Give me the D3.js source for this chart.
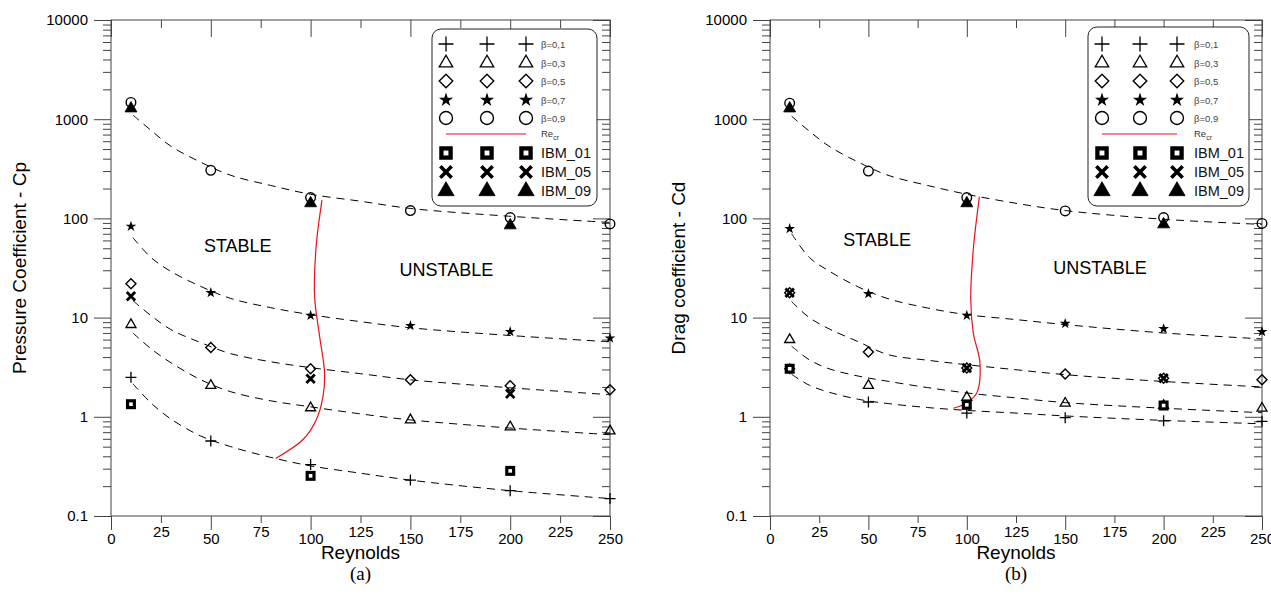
<!DOCTYPE html>
<html>
<head>
<meta charset="utf-8">
<script src="https://cdn.jsdelivr.net/npm/d3@7"></script>
<style>
  body { margin: 0; background: #fff; }
  svg text { font-family: "Liberation Sans", Arial, sans-serif; }
</style>
</head>
<body>
<svg width="1271" height="606"></svg>
<script>
// ---- data ----
const reynolds = [10, 50, 100, 150, 200, 250];
const ibmReynolds = [10, 100, 200];
const fitReynolds = [11, 20, 30, 45, 60, 80, 100, 125, 150, 200, 250];

const xMajorTicks = [0, 50, 100, 150, 200, 250];
const xMinorTicks = [25, 75, 125, 175, 225];
const yMajorTicks = [0.1, 1, 10, 100, 1000, 10000];
const yTickLabels = ['0.1', '1', '10', '100', '1000', '10000'];

// (a) pressure coefficient
const cpBeta01 = [2.5, 0.57, 0.33, 0.23, 0.18, 0.15];
const cpBeta03 = [8.5, 2.07, 1.23, 0.93, 0.79, 0.72];
const cpBeta05 = [21.9, 5.0, 3.05, 2.36, 2.06, 1.87];
const cpBeta07 = [83, 17.8, 10.5, 8.3, 7.2, 6.2];
const cpBeta09 = [1476, 305, 162, 120, 102, 88];
const cpIbm01 = [1.34, 0.254, 0.285];
const cpIbm05 = [16.4, 2.42, 1.71];
const cpIbm09 = [1283, 142, 85];
const cpFit01 = [2.15, 1.38, 0.95, 0.64, 0.50, 0.39, 0.32, 0.27, 0.23, 0.18, 0.15];
const cpFit03 = [7.0, 4.86, 3.51, 2.36, 1.79, 1.45, 1.26, 1.07, 0.93, 0.77, 0.66];
const cpFit05 = [14.8, 10.5, 7.57, 5.59, 4.33, 3.59, 3.13, 2.72, 2.36, 1.96, 1.67];
const cpFit07 = [64, 40.4, 29.2, 20.6, 15.6, 12.6, 10.7, 9.1, 7.9, 6.6, 5.7];
const cpFit09 = [1100, 774, 534, 368, 272, 215, 175, 149, 126, 105, 91];
const cpRecrRe = [82.5, 96.2, 102.8, 106.2, 107, 104.5, 102, 102.8, 105.7];
const cpRecr = [0.38, 0.59, 0.93, 1.60, 2.76, 6.5, 16.4, 52.5, 153];

// (b) drag coefficient
const cdBeta01 = [3.05, 1.41, 1.09, 0.98, 0.91, 0.90];
const cdBeta03 = [6.0, 2.07, 1.57, 1.37, 1.30, 1.22];
const cdBeta05 = [17.8, 4.5, 3.1, 2.70, 2.45, 2.36];
const cdBeta07 = [78.7, 17.4, 10.5, 8.7, 7.7, 7.2];
const cdBeta09 = [1452, 300, 162, 119, 102, 89];
const cdIbm01 = [3.05, 1.32, 1.30];
const cdIbm05 = [17.8, 3.1, 2.45];
const cdIbm09 = [1283, 142, 87];
const cdFit01 = [2.68, 2.08, 1.77, 1.50, 1.36, 1.24, 1.16, 1.09, 1.02, 0.92, 0.85];
const cdFit03 = [5.15, 3.75, 3.05, 2.57, 2.28, 1.97, 1.74, 1.55, 1.39, 1.22, 1.10];
const cdFit05 = [14.5, 10.0, 7.7, 5.7, 4.23, 3.72, 3.35, 2.98, 2.66, 2.27, 2.0];
const cdFit07 = [70, 40.4, 29.5, 20.3, 15.5, 12.5, 10.7, 9.55, 8.5, 7.0, 6.1];
const cdFit09 = [1072, 757, 534, 368, 272, 215, 175, 142, 120, 98, 87];
const cdRecrRe = [93.1, 98.2, 105, 106.7, 103.3, 102, 103.3, 106.4];
const cdRecr = [1.22, 1.32, 1.73, 3.48, 7.0, 15.2, 48.6, 166];

const legendItems = [
  ['plus', 'β=0,1'], ['triangle', 'β=0,3'], ['diamond', 'β=0,5'],
  ['star', 'β=0,7'], ['circle', 'β=0,9'], ['line', 'Re'],
  ['square', 'IBM_01'], ['cross', 'IBM_05'], ['solidTriangle', 'IBM_09']
];

// ---- layout ----
const svg = d3.select('svg');
const plotTop = 20;
const plotBottom = 516;
const legendRows = [44, 63, 81, 100, 118, 134, 153, 172, 191];

const panels = [
  {
    left: 111, right: 610, title: 'Pressure Coefficient - Cp', titleX: 19, tag: '(a)',
    beta: [cpBeta01, cpBeta03, cpBeta05, cpBeta07, cpBeta09],
    fits: [cpFit01, cpFit03, cpFit05, cpFit07, cpFit09],
    ibm: [cpIbm01, cpIbm05, cpIbm09],
    recrRe: cpRecrRe, recr: cpRecr,
    legend: { left: 432, right: 597, top: 29, bottom: 206, cols: [446, 487, 526], textX: 541 },
    stable: [63.5, 53], unstable: [168, 30.5]
  },
  {
    left: 770, right: 1262, title: 'Drag coefficient - Cd', titleX: 678, tag: '(b)',
    beta: [cdBeta01, cdBeta03, cdBeta05, cdBeta07, cdBeta09],
    fits: [cdFit01, cdFit03, cdFit05, cdFit07, cdFit09],
    ibm: [cdIbm01, cdIbm05, cdIbm09],
    recrRe: cdRecrRe, recr: cdRecr,
    legend: { left: 1088, right: 1249, top: 27, bottom: 206, cols: [1102, 1140, 1177], textX: 1194 },
    stable: [54.4, 60], unstable: [167.7, 31.6]
  }
];

// marker drawing; big = legend size
function marker(g, type, cx, cy, big) {
  const k = big ? 1.35 : 1;
  const m = g.append('g').attr('transform', `translate(${cx},${cy})`);
  if (type === 'plus') {
    const s = (big ? 7.5 : 5.5);
    m.append('path').attr('d', `M${-s},0H${s}M0,${-s}V${s}`)
      .attr('stroke', '#000').attr('stroke-width', 1.3).attr('fill', 'none');
  } else if (type === 'triangle' || type === 'solidTriangle') {
    const w = (type === 'triangle' ? 5 : 6) * k;
    const h = w * 1.73;
    const filled = type === 'solidTriangle';
    m.append('path').attr('d', `M0,${-h * 2 / 3}L${w},${h / 3}L${-w},${h / 3}Z`)
      .attr('stroke', '#000').attr('stroke-width', filled ? 0.8 : 1.3)
      .attr('fill', filled ? '#000' : 'none');
  } else if (type === 'diamond') {
    const s = 5 * k;
    m.append('path').attr('d', `M0,${-s}L${s},0L0,${s}L${-s},0Z`)
      .attr('stroke', '#000').attr('stroke-width', 1.4).attr('fill', 'none');
  } else if (type === 'star') {
    m.append('path').attr('d', d3.symbol(d3.symbolStar, big ? 62 : 36)())
      .attr('fill', '#000');
  } else if (type === 'circle') {
    m.append('circle').attr('r', 4.8 * k)
      .attr('stroke', '#000').attr('stroke-width', 1.4).attr('fill', 'none');
  } else if (type === 'square') {
    const s = 5 * k;
    const i = 1.8 * k;
    m.append('rect').attr('x', -s).attr('y', -s).attr('width', 2 * s).attr('height', 2 * s)
      .attr('fill', '#000');
    m.append('rect').attr('x', -i).attr('y', -i).attr('width', 2 * i).attr('height', 2 * i)
      .attr('fill', '#fff');
  } else if (type === 'cross') {
    const s = 4.2 * k;
    m.append('path').attr('d', `M${-s},${-s}L${s},${s}M${s},${-s}L${-s},${s}`)
      .attr('stroke', '#000').attr('stroke-width', big ? 3.6 : 2.8).attr('fill', 'none');
  }
}

const betaTypes = ['plus', 'triangle', 'diamond', 'star', 'circle'];
const ibmTypes = ['square', 'cross', 'solidTriangle'];

panels.forEach(p => {
  const x = d3.scaleLinear().domain([0, 250]).range([p.left, p.right]);
  const y = d3.scaleLog().domain([0.1, 10000]).range([plotBottom, plotTop]);
  const yMinor = y.ticks().filter(d => Math.abs(Math.log10(d) - Math.round(Math.log10(d))) > 1e-6);

  const g = svg.append('g');
  const axisColor = '#444';

  const styleAxis = sel => {
    sel.select('.domain').remove();
    sel.selectAll('line').attr('stroke', axisColor);
    sel.selectAll('text').attr('fill', '#000');
    sel.attr('font-family', '"Liberation Sans", Arial, sans-serif').attr('font-size', 15);
  };

  // left
  g.append('g').attr('transform', `translate(${p.left},0)`)
    .call(d3.axisLeft(y).tickValues(yMajorTicks).tickSize(17).tickPadding(6)
      .tickFormat((d, i) => yTickLabels[i]))
    .call(styleAxis);
  g.append('g').attr('transform', `translate(${p.left},0)`)
    .call(d3.axisLeft(y).tickValues(yMinor).tickSize(8).tickFormat(''))
    .call(styleAxis);
  // right (inward)
  g.append('g').attr('transform', `translate(${p.right},0)`)
    .call(d3.axisRight(y).tickValues(yMajorTicks).tickSize(-17).tickFormat(''))
    .call(styleAxis);
  g.append('g').attr('transform', `translate(${p.right},0)`)
    .call(d3.axisRight(y).tickValues(yMinor).tickSize(-8).tickFormat(''))
    .call(styleAxis);
  // bottom
  g.append('g').attr('transform', `translate(0,${plotBottom})`)
    .call(d3.axisBottom(x).tickValues(xMajorTicks).tickSize(14).tickPadding(3))
    .call(styleAxis);
  g.append('g').attr('transform', `translate(0,${plotBottom})`)
    .call(d3.axisBottom(x).tickValues(xMinorTicks).tickSize(7).tickPadding(3))
    .call(styleAxis);
  // top (inward)
  g.append('g').attr('transform', `translate(0,${plotTop})`)
    .call(d3.axisTop(x).tickValues(xMajorTicks).tickSize(-17).tickFormat(''))
    .call(styleAxis);
  g.append('g').attr('transform', `translate(0,${plotTop})`)
    .call(d3.axisTop(x).tickValues(xMinorTicks).tickSize(-8).tickFormat(''))
    .call(styleAxis);

  g.append('rect')
    .attr('x', p.left).attr('y', plotTop)
    .attr('width', p.right - p.left).attr('height', plotBottom - plotTop)
    .attr('fill', 'none').attr('stroke', axisColor).attr('stroke-width', 1);

  // titles
  g.append('text')
    .attr('transform', `translate(${p.titleX},${(plotTop + plotBottom) / 2}) rotate(-90)`)
    .attr('text-anchor', 'middle').attr('dominant-baseline', 'central')
    .attr('font-size', 19).text(p.title);
  g.append('text')
    .attr('x', (p.left + p.right) / 2).attr('y', 559)
    .attr('text-anchor', 'middle').attr('font-size', 19).text('Reynolds');
  g.append('text')
    .attr('x', (p.left + p.right) / 2).attr('y', 580)
    .attr('text-anchor', 'middle').attr('font-size', 19)
    .style('font-family', '"Liberation Serif", "Times New Roman", serif')
    .text(p.tag);

  g.append('text').attr('x', x(p.stable[0])).attr('y', y(p.stable[1]))
    .attr('text-anchor', 'middle').attr('dominant-baseline', 'central')
    .attr('font-size', 18).text('STABLE');
  g.append('text').attr('x', x(p.unstable[0])).attr('y', y(p.unstable[1]))
    .attr('text-anchor', 'middle').attr('dominant-baseline', 'central')
    .attr('font-size', 18).text('UNSTABLE');

  // fitted curves
  const line = d3.line().x(d => x(d[0])).y(d => y(d[1])).curve(d3.curveCatmullRom);
  p.fits.forEach(f => {
    g.append('path').attr('d', line(d3.zip(fitReynolds, f)))
      .attr('fill', 'none').attr('stroke', '#000').attr('stroke-width', 1)
      .attr('stroke-dasharray', '8,6');
  });

  // critical Reynolds curve
  g.append('path').attr('d', line(d3.zip(p.recrRe, p.recr)))
    .attr('fill', 'none').attr('stroke', '#e8121b').attr('stroke-width', 1.2);

  // markers
  p.beta.forEach((series, i) => {
    series.forEach((v, j) => marker(g, betaTypes[i], x(reynolds[j]), y(v), false));
  });
  p.ibm.forEach((series, i) => {
    series.forEach((v, j) => marker(g, ibmTypes[i], x(ibmReynolds[j]), y(v), false));
  });

  // legend
  const L = p.legend;
  const lg = g.append('g');
  lg.append('rect')
    .attr('x', L.left).attr('y', L.top)
    .attr('width', L.right - L.left).attr('height', L.bottom - L.top)
    .attr('rx', 9).attr('fill', '#fff').attr('stroke', '#222').attr('stroke-width', 1);
  legendItems.forEach(([type, label], i) => {
    const ry = legendRows[i];
    if (type === 'line') {
      lg.append('line').attr('x1', L.cols[0]).attr('x2', L.cols[2])
        .attr('y1', ry).attr('y2', ry).attr('stroke', '#e8121b').attr('stroke-width', 1.2);
      const t = lg.append('text').attr('x', L.textX).attr('y', ry + 3)
        .attr('font-size', 9.5).attr('fill', '#333').text(label);
      t.append('tspan').attr('dy', 3).attr('font-size', 7).text('cr');
    } else {
      L.cols.forEach(cx => marker(lg, type, cx, ry, true));
      const ibm = i > 5;
      lg.append('text').attr('x', L.textX).attr('y', ry)
        .attr('dominant-baseline', 'central')
        .attr('font-size', ibm ? 14.5 : 9.5).attr('fill', ibm ? '#111' : '#444')
        .text(label);
    }
  });
});
</script>
</body>
</html>
